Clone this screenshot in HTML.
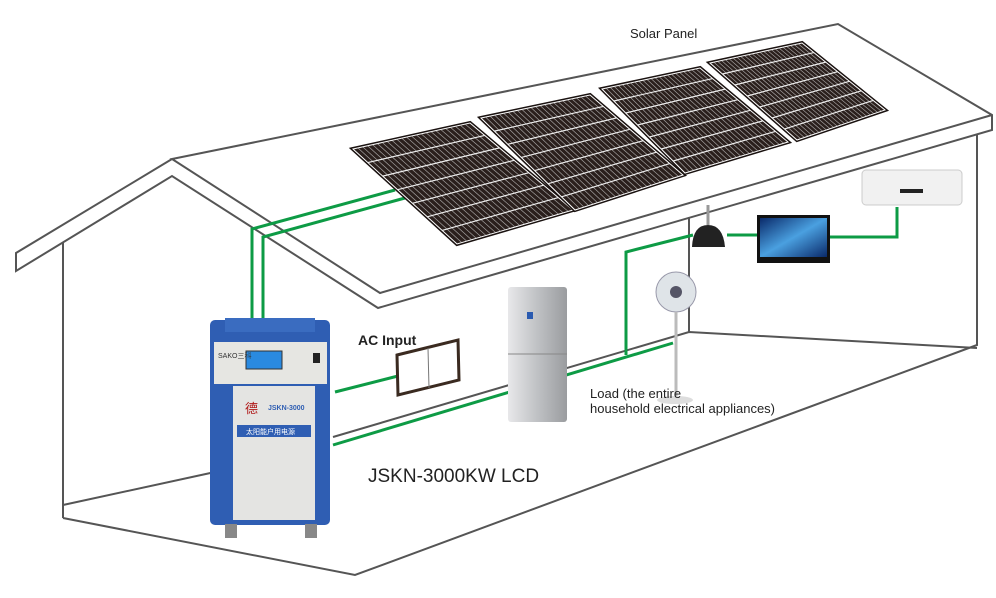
<!DOCTYPE html>
<html><head><meta charset="utf-8"><style>
html,body{margin:0;padding:0;background:#fff;}
svg{display:block;font-family:"Liberation Sans","Noto Sans CJK SC",sans-serif;}
</style></head><body>
<svg id="s" width="996" height="598" viewBox="0 0 996 598" xmlns="http://www.w3.org/2000/svg">
<defs>
<linearGradient id="fr" x1="0" x2="1"><stop offset="0" stop-color="#e8e8ea"/><stop offset="0.5" stop-color="#bfc1c4"/><stop offset="1" stop-color="#9a9c9f"/></linearGradient>
<linearGradient id="tv" x1="0" y1="0" x2="1" y2="1"><stop offset="0" stop-color="#0a2a6a"/><stop offset="0.5" stop-color="#4aa0e0"/><stop offset="1" stop-color="#0a2a6a"/></linearGradient>
</defs>
<g fill="none" stroke="#555" stroke-width="2" stroke-linejoin="miter">
<polyline points="172,159 16,253 16,271 172,176 378,308 992,130 992,115 838,24 172,159 380,293 992,115"/>
<line x1="63" y1="243" x2="63" y2="518"/>
<polyline points="63,518 355,575 977,345 977,135"/>
<line x1="63" y1="505" x2="215" y2="472"/>
<polyline points="333,437 689,332 977,348"/>
<line x1="689" y1="332" x2="689" y2="217"/>
</g>
<g fill="none" stroke="#0d9b45" stroke-width="3">
<polyline points="395,190 252,229 252,320"/>
<polyline points="405,198 263,237 263,320"/>
<line x1="335" y1="392" x2="398" y2="376"/>
<polyline points="333,445 673,343"/>
<polyline points="626,355 626,252 693,235"/>
<line x1="727" y1="235" x2="757" y2="235"/>
<polyline points="830,237 897,237 897,207"/>
</g>
<g id="panels"></g>
<polygon points="397,355 458,340 459,380 398,395" fill="#fff" stroke="#3a2a20" stroke-width="3"/>
<line x1="428" y1="348" x2="429" y2="388" stroke="#777"/>
<text x="358" y="345" font-size="14" font-weight="bold" fill="#222">AC Input</text>
<rect x="210" y="320" width="120" height="205" rx="5" fill="#2f5eb3"/>
<rect x="225" y="318" width="90" height="14" fill="#3a6cc0"/>
<rect x="214" y="342" width="113" height="42" fill="#e6e6e2"/>
<rect x="246" y="351" width="36" height="18" fill="#2a8ae0" stroke="#333"/>
<rect x="313" y="353" width="7" height="10" fill="#222"/>
<text x="218" y="358" font-size="7" fill="#333">SAKO三科</text>
<rect x="233" y="386" width="82" height="134" fill="#e4e4e2"/>
<text x="245" y="413" font-size="13" fill="#b01818">德</text>
<text x="268" y="410" font-size="7" font-weight="bold" fill="#2f5eb3">JSKN-3000</text>
<rect x="237" y="425" width="74" height="12" fill="#2f5eb3"/>
<text x="246" y="434" font-size="7" fill="#fff">太阳能户用电源</text>
<rect x="225" y="524" width="12" height="14" fill="#888"/><rect x="305" y="524" width="12" height="14" fill="#888"/>
<rect x="508" y="287" width="59" height="135" rx="3" fill="url(#fr)"/>
<line x1="508" y1="354" x2="567" y2="354" stroke="#888"/>
<rect x="527" y="312" width="6" height="7" fill="#2a5ab0"/>
<circle cx="676" cy="292" r="20" fill="#dfe4e8" stroke="#99a" />
<circle cx="676" cy="292" r="6" fill="#556"/>
<line x1="676" y1="312" x2="676" y2="398" stroke="#bbb" stroke-width="3"/>
<ellipse cx="675" cy="400" rx="18" ry="4" fill="#ddd"/>
<line x1="708" y1="205" x2="708" y2="225" stroke="#999" stroke-width="3"/>
<path d="M692,247 Q693,225 708,225 Q723,225 725,247 Z" fill="#222"/>
<rect x="757" y="215" width="73" height="48" fill="#111"/>
<rect x="760" y="218" width="67" height="39" fill="url(#tv)"/>
<rect x="862" y="170" width="100" height="35" rx="4" fill="#f1f1f1" stroke="#ccc"/>
<rect x="900" y="189" width="23" height="4" fill="#222"/>
<text x="630" y="38" font-size="13" fill="#222">Solar Panel</text>
<text x="590" y="398" font-size="13" fill="#222">Load (the entire</text>
<text x="590" y="413" font-size="13" fill="#222">household electrical appliances)</text>
<text x="368" y="482" font-size="19" fill="#222">JSKN-3000KW LCD</text>
</svg>
<script>
var P=[[[353,149],[470,123],[573,210],[457,244]],[[481,118],[590,95],[683,175],[575,210]],[[602,89],[700,68],[788,142],[685,173]],[[710,63],[802,43],[885,110],[797,140]]];
var g=document.getElementById('panels'),h='';
function L(a,b,t){return [a[0]+(b[0]-a[0])*t,a[1]+(b[1]-a[1])*t];}
P.forEach(function(p){
 var pts=p.map(function(q){return q.join(',')}).join(' ');
 h+='<polygon points="'+pts+'" fill="#2a1f1c" stroke="#1a1210" stroke-width="4"/>';
 h+='<polygon points="'+pts+'" fill="#2a1f1c" stroke="#fff" stroke-width="1"/>';
 for(var i=1;i<24;i++){var t=i/24,a=L(p[0],p[1],t),b=L(p[3],p[2],t);h+='<line x1="'+a[0]+'" y1="'+a[1]+'" x2="'+b[0]+'" y2="'+b[1]+'" stroke="#ccc" stroke-width="0.7" opacity="0.75"/>';}
 for(var i=1;i<7;i++){var t=i/7,a=L(p[0],p[3],t),b=L(p[1],p[2],t);h+='<line x1="'+a[0]+'" y1="'+a[1]+'" x2="'+b[0]+'" y2="'+b[1]+'" stroke="#eee" stroke-width="1.2"/>';}
});
g.innerHTML=h;
</script>
</body></html>
